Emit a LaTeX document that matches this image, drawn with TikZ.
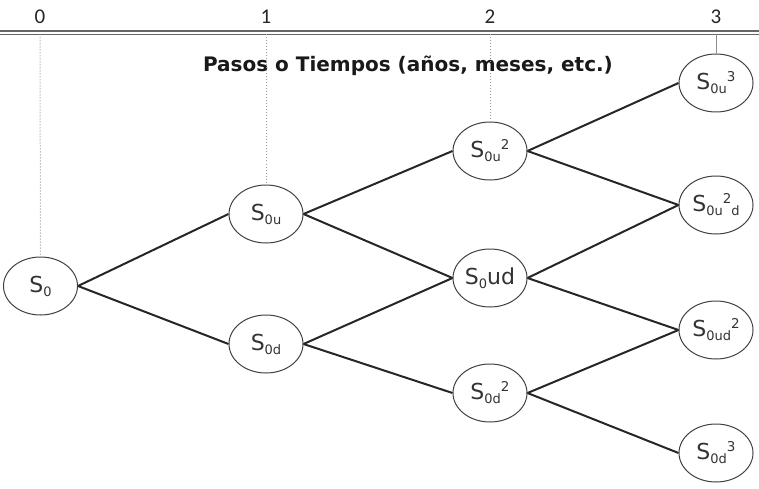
\documentclass[tikz,border=0pt]{standalone}
\usepackage{fontspec}
\setmainfont{DejaVu Sans}
\newfontfamily\tickfont{Carlito}
\usetikzlibrary{shapes.geometric}
\tikzset{
  st/.style={draw=black!75, line width=1pt, ellipse, minimum width=74pt, minimum height=58pt, inner sep=0pt, font=\fontsize{22}{24}\selectfont, text=black!80},
  br/.style={line width=2pt, black!85},
  guide/.style={draw=black!40, dotted, line width=1pt},
  tick/.style={font=\tickfont\fontsize{21}{23}\selectfont, text=black!85}
}
\newcommand{\sub}[1]{\raisebox{-4pt}{\fontsize{13}{13}\selectfont #1}}
\newcommand{\sups}[1]{\raisebox{8pt}{\fontsize{13.5}{13.5}\selectfont #1}}
\begin{document}
\begin{tikzpicture}[x=1pt,y=-1pt]
\useasboundingbox (0,0) rectangle (759,489);
% axis
\draw[black!60, line width=1.1pt] (0,31) -- (759,31);
\draw[black!60, line width=1.1pt] (0,34.5) -- (759,34.5);
\node[tick] (t0) at (40,17) {0};
\node[tick] (t1) at (266,17) {1};
\node[tick] (t2) at (490,17) {2};
\node[tick] (t3) at (716,17) {3};
\coordinate (a0) at (40,34.5);
\coordinate (a1) at (266,34.5);
\coordinate (a2) at (490,34.5);
\coordinate (a3) at (716,34.5);
\node[font=\bfseries\fontsize{20}{22}\selectfont, text=black!90] (lab) at (408,66) {Pasos o Tiempos (años, meses, etc.)};
% nodes
\node[st] (s0) at (40.5,286) {S\sub{0}};
\node[st] (su) at (266,214) {S\sub{0u}};
\node[st] (sd) at (266,344) {S\sub{0d}};
\node[st] (suu) at (490,151) {S\sub{0u}\sups{2}};
\node[st] (sud) at (490,278) {S\sub{0}ud};
\node[st] (sdd) at (490,393) {S\sub{0d}\sups{2}};
\node[st] (suuu) at (716,83) {S\sub{0u}\sups{3}};
\node[st] (suud) at (716,205) {S\sub{0u}\sups{2}\sub{d}};
\node[st] (sudd) at (716,330) {S\sub{0ud}\sups{2}};
\node[st] (sddd) at (716,453) {S\sub{0d}\sups{3}};
% guides
\draw[guide] (a0) -- (s0.north);
\draw[guide] (a1) -- (su.north);
\draw[guide] (a2) -- (suu.north);
\draw[black!45, line width=0.9pt] (a3) -- (suuu.north);
% branches
\draw[br] (s0.east) -- (su.west);
\draw[br] (s0.east) -- (sd.west);
\draw[br] (su.east) -- (suu.west);
\draw[br] (su.east) -- (sud.west);
\draw[br] (sd.east) -- (sud.west);
\draw[br] (sd.east) -- (sdd.west);
\draw[br] (suu.east) -- (suuu.west);
\draw[br] (suu.east) -- (suud.west);
\draw[br] (sud.east) -- (suud.west);
\draw[br] (sud.east) -- (sudd.west);
\draw[br] (sdd.east) -- (sudd.west);
\draw[br] (sdd.east) -- (sddd.west);
\end{tikzpicture}
\end{document}
